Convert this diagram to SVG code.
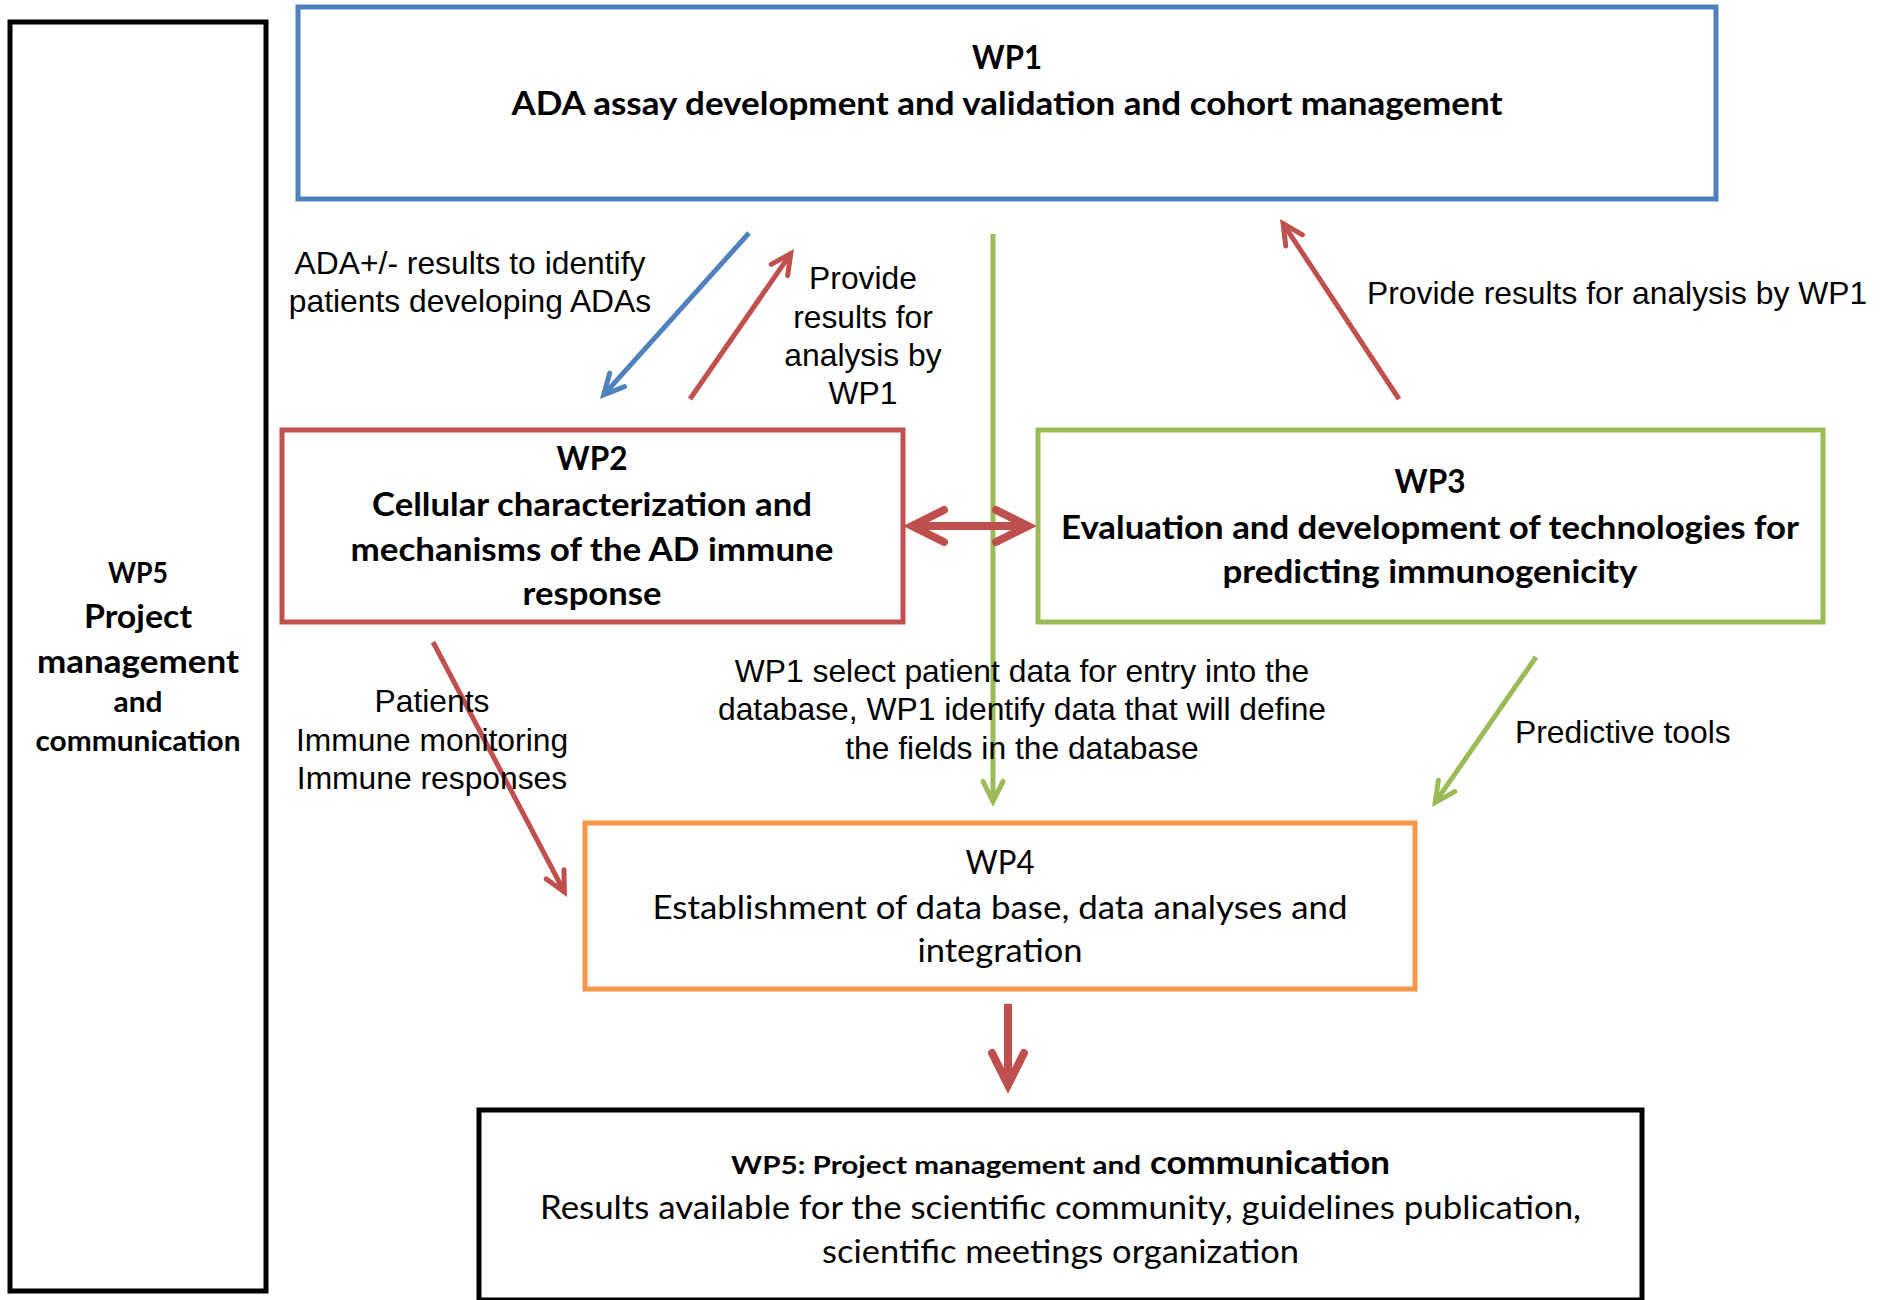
<svg xmlns="http://www.w3.org/2000/svg" width="1889" height="1300" viewBox="0 0 1889 1300">
  <style>
    .box { fill: #FFFFFF; stroke-width: 5; }
    .cb { font-family: Lato, "Liberation Sans", sans-serif; font-weight: bold; fill: #000; }
    .cr { font-family: Lato, "Liberation Sans", sans-serif; font-weight: normal; fill: #000; }
    .ar { font-family: "Liberation Sans", Arial, sans-serif; font-size: 31.8px; fill: #000; }
    .mid { text-anchor: middle; }
    .conn { fill: none; }
  </style>
  <defs>
    <marker id="mRed" viewBox="-5 -3 6 6" refX="0" refY="0" markerWidth="6" markerHeight="6" orient="auto-start-reverse" markerUnits="strokeWidth">
      <path d="M-4,-2 L0,0 L-4,2" fill="none" stroke="#C0504D" stroke-width="1" stroke-linecap="round" stroke-linejoin="miter"/>
    </marker>
    <marker id="mBlue" viewBox="-5 -3 6 6" refX="0" refY="0" markerWidth="6" markerHeight="6" orient="auto-start-reverse" markerUnits="strokeWidth">
      <path d="M-4,-2 L0,0 L-4,2" fill="none" stroke="#4F81BD" stroke-width="1" stroke-linecap="round" stroke-linejoin="miter"/>
    </marker>
    <marker id="mGreen" viewBox="-5 -3 6 6" refX="0" refY="0" markerWidth="6" markerHeight="6" orient="auto-start-reverse" markerUnits="strokeWidth">
      <path d="M-4,-2 L0,0 L-4,2" fill="none" stroke="#9BBB59" stroke-width="1" stroke-linecap="round" stroke-linejoin="miter"/>
    </marker>
  </defs>
  <rect x="0" y="0" width="1889" height="1300" fill="#FFFFFF"/>

  <g id="wp5-side">
    <rect class="box" x="10" y="22" width="256" height="1269" stroke="#000000"/>
    <text class="cb mid" x="138" y="583" font-size="28" textLength="60" lengthAdjust="spacingAndGlyphs">WP5</text>
    <text class="cb mid" x="138" y="628" font-size="33" textLength="108" lengthAdjust="spacingAndGlyphs">Project</text>
    <text class="cb mid" x="138" y="673" font-size="33" textLength="202" lengthAdjust="spacingAndGlyphs">management</text>
    <text class="cb mid" x="138" y="712" font-size="28" textLength="49" lengthAdjust="spacingAndGlyphs">and</text>
    <text class="cb mid" x="138" y="751" font-size="28" textLength="205" lengthAdjust="spacingAndGlyphs">communication</text>
  </g>

  <g id="wp1">
    <rect class="box" x="298" y="7" width="1418" height="192" stroke="#4F81BD"/>
    <text class="cb mid" x="1007" y="69" font-size="33" textLength="70" lengthAdjust="spacingAndGlyphs">WP1</text>
    <text class="cb mid" x="1007" y="115" font-size="33" textLength="991" lengthAdjust="spacingAndGlyphs">ADA assay development and validation and cohort management</text>
  </g>

  <g id="wp2">
    <rect class="box" x="282" y="430" width="621" height="192" stroke="#C0504D"/>
    <text class="cb mid" x="592" y="470" font-size="33" textLength="71" lengthAdjust="spacingAndGlyphs">WP2</text>
    <text class="cb mid" x="592" y="516" font-size="33" textLength="440" lengthAdjust="spacingAndGlyphs">Cellular characterization and</text>
    <text class="cb mid" x="592" y="561" font-size="33" textLength="483" lengthAdjust="spacingAndGlyphs">mechanisms of the AD immune</text>
    <text class="cb mid" x="592" y="605" font-size="33" textLength="139" lengthAdjust="spacingAndGlyphs">response</text>
  </g>

  <g id="wp3">
    <rect class="box" x="1038" y="430" width="785" height="192" stroke="#9BBB59"/>
    <text class="cb mid" x="1430" y="493" font-size="33" textLength="71" lengthAdjust="spacingAndGlyphs">WP3</text>
    <text class="cb mid" x="1430" y="539" font-size="33" textLength="738" lengthAdjust="spacingAndGlyphs">Evaluation and development of technologies for</text>
    <text class="cb mid" x="1430" y="583" font-size="33" textLength="415" lengthAdjust="spacingAndGlyphs">predicting immunogenicity</text>
  </g>

  <g id="wp4">
    <rect class="box" x="585" y="823" width="830" height="166" stroke="#F79646"/>
    <text class="cr mid" x="1000" y="874" font-size="33" textLength="69" lengthAdjust="spacingAndGlyphs">WP4</text>
    <text class="cr mid" x="1000" y="919" font-size="33" textLength="695" lengthAdjust="spacingAndGlyphs">Establishment of data base, data analyses and</text>
    <text class="cr mid" x="1000" y="962" font-size="33" textLength="165" lengthAdjust="spacingAndGlyphs">integration</text>
  </g>

  <g id="wp5-bottom">
    <rect class="box" x="479" y="1110" width="1163" height="190" stroke="#000000"/>
    <text class="cb" x="731" y="1174" font-size="25.5" textLength="410" lengthAdjust="spacingAndGlyphs">WP5: Project management and</text>
    <text class="cb" x="1150" y="1174" font-size="33" textLength="240" lengthAdjust="spacingAndGlyphs">communication</text>
    <text class="cr mid" x="1060.5" y="1219" font-size="33" textLength="1041" lengthAdjust="spacingAndGlyphs">Results available for the scientific community, guidelines publication,</text>
    <text class="cr mid" x="1060.5" y="1263" font-size="33" textLength="477" lengthAdjust="spacingAndGlyphs">scientific meetings organization</text>
  </g>

  <g id="connectors" class="conn">
    <line x1="749" y1="233" x2="603.7" y2="394.8" stroke="#4F81BD" stroke-width="5" marker-end="url(#mBlue)"/>
    <line x1="690" y1="399" x2="790.8" y2="253.6" stroke="#C0504D" stroke-width="5" marker-end="url(#mRed)"/>
    <line x1="993" y1="234" x2="993" y2="801.4" stroke="#9BBB59" stroke-width="5" marker-end="url(#mGreen)"/>
    <line x1="1399" y1="399" x2="1283.1" y2="223.7" stroke="#C0504D" stroke-width="5" marker-end="url(#mRed)"/>
    <line x1="912" y1="526" x2="1028" y2="526" stroke="#C0504D" stroke-width="8" marker-start="url(#mRed)" marker-end="url(#mRed)"/>
    <line x1="433" y1="642" x2="564.4" y2="892" stroke="#C0504D" stroke-width="5" marker-end="url(#mRed)"/>
    <line x1="1536" y1="657" x2="1435.2" y2="802.4" stroke="#9BBB59" stroke-width="5" marker-end="url(#mGreen)"/>
    <line x1="1008" y1="1004" x2="1008" y2="1085" stroke="#C0504D" stroke-width="8" marker-end="url(#mRed)"/>
  </g>

  <g id="labels">
    <text class="ar mid" x="470" y="274">ADA+/- results to identify</text>
    <text class="ar mid" x="470" y="312">patients developing ADAs</text>
    <text class="ar mid" x="863" y="289">Provide</text>
    <text class="ar mid" x="863" y="328">results for</text>
    <text class="ar mid" x="863" y="366">analysis by</text>
    <text class="ar mid" x="863" y="404">WP1</text>
    <text class="ar" x="1367" y="304">Provide results for analysis by WP1</text>
    <text class="ar mid" x="1022" y="682">WP1 select patient data for entry into the</text>
    <text class="ar mid" x="1022" y="720">database, WP1 identify data that will define</text>
    <text class="ar mid" x="1022" y="759">the fields in the database</text>
    <text class="ar mid" x="432" y="712">Patients</text>
    <text class="ar mid" x="432" y="751">Immune monitoring</text>
    <text class="ar mid" x="432" y="789">Immune responses</text>
    <text class="ar" x="1515" y="743">Predictive tools</text>
  </g>
</svg>
